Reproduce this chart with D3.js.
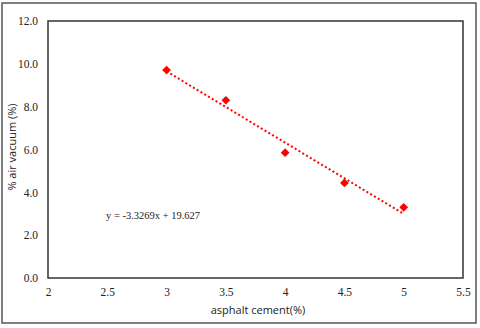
<!DOCTYPE html>
<html>
<head>
<meta charset="utf-8">
<script src="https://cdn.jsdelivr.net/npm/d3@7"></script>
<style>
  body { margin: 0; background: #fff; }
  svg { display: block; }
</style>
</head>
<body>
<div id="graph"></div>
<script>
var asphalt = [3, 3.5, 4, 4.5, 5];
var airVoids = [9.71, 8.3, 5.85, 4.44, 3.3];
var xTicks = [2, 2.5, 3, 3.5, 4, 4.5, 5, 5.5];
var yTicks = [0, 2, 4, 6, 8, 10, 12];
var slope = -3.3269, intercept = 19.627;
var equation = "y = -3.3269x + 19.627";

var width = 480, height = 328;
var svg = d3.select("#graph")
    .append("svg")
    .attr("width", width)
    .attr("height", height);

// outer chart frame
svg.append("rect")
  .attr("x", 2).attr("y", 3)
  .attr("width", 474).attr("height", 320)
  .attr("fill", "#fff")
  .attr("stroke", "#555")
  .attr("stroke-width", 1.5);

var x = d3.scaleLinear().domain([2, 5.5]).range([48, 463]);
var y = d3.scaleLinear().domain([0, 12]).range([278, 21]);

// plot area frame
svg.append("rect")
  .attr("x", x(2)).attr("y", y(12))
  .attr("width", x(5.5) - x(2)).attr("height", y(0) - y(12))
  .attr("fill", "none")
  .attr("stroke", "#333")
  .attr("stroke-width", 1.5);

var serif = "'Liberation Serif', 'Times New Roman', serif";
var sans = "'Open Sans', 'DejaVu Sans', sans-serif";

var xAxis = svg.append("g")
  .attr("transform", "translate(0," + y(0) + ")")
  .call(d3.axisBottom(x).tickValues(xTicks).tickSize(0).tickPadding(10)
    .tickFormat(function (d) { return String(d); }));
xAxis.select(".domain").remove();
xAxis.selectAll("text")
  .attr("font-family", serif).attr("font-size", 11.5).attr("fill", "#222");

var yAxis = svg.append("g")
  .attr("transform", "translate(" + x(2) + ",0)")
  .call(d3.axisLeft(y).tickValues(yTicks).tickSize(0).tickPadding(10)
    .tickFormat(d3.format(".1f")));
yAxis.select(".domain").remove();
yAxis.selectAll("text")
  .attr("font-family", serif).attr("font-size", 11.5).attr("fill", "#222");

// trendline
svg.append("line")
  .attr("x1", x(3)).attr("y1", y(slope * 3 + intercept))
  .attr("x2", x(5)).attr("y2", y(slope * 5 + intercept))
  .attr("stroke", "#ff0000")
  .attr("stroke-width", 2)
  .attr("stroke-dasharray", "2,2.4");

var diamond = d3.symbol().type(d3.symbolSquare).size(38);
svg.selectAll("path.pt")
  .data(asphalt)
  .enter()
  .append("path")
  .attr("class", "pt")
  .attr("d", diamond)
  .attr("fill", "#ff0000")
  .attr("transform", function (d, i) {
    return "translate(" + x(d) + "," + y(airVoids[i]) + ") rotate(45)";
  });

svg.append("text")
  .attr("x", 106).attr("y", 219)
  .attr("font-family", serif).attr("font-size", 10.5).attr("fill", "#222")
  .text(equation);

svg.append("text")
  .attr("x", 258).attr("y", 314)
  .attr("text-anchor", "middle")
  .attr("font-family", sans).attr("font-size", 11).attr("fill", "#222")
  .text("asphalt cement(%)");

svg.append("text")
  .attr("transform", "translate(16,147) rotate(-90)")
  .attr("text-anchor", "middle")
  .attr("font-family", sans).attr("font-size", 11).attr("fill", "#222")
  .text("% air vacuum (%)");
</script>
</body>
</html>
